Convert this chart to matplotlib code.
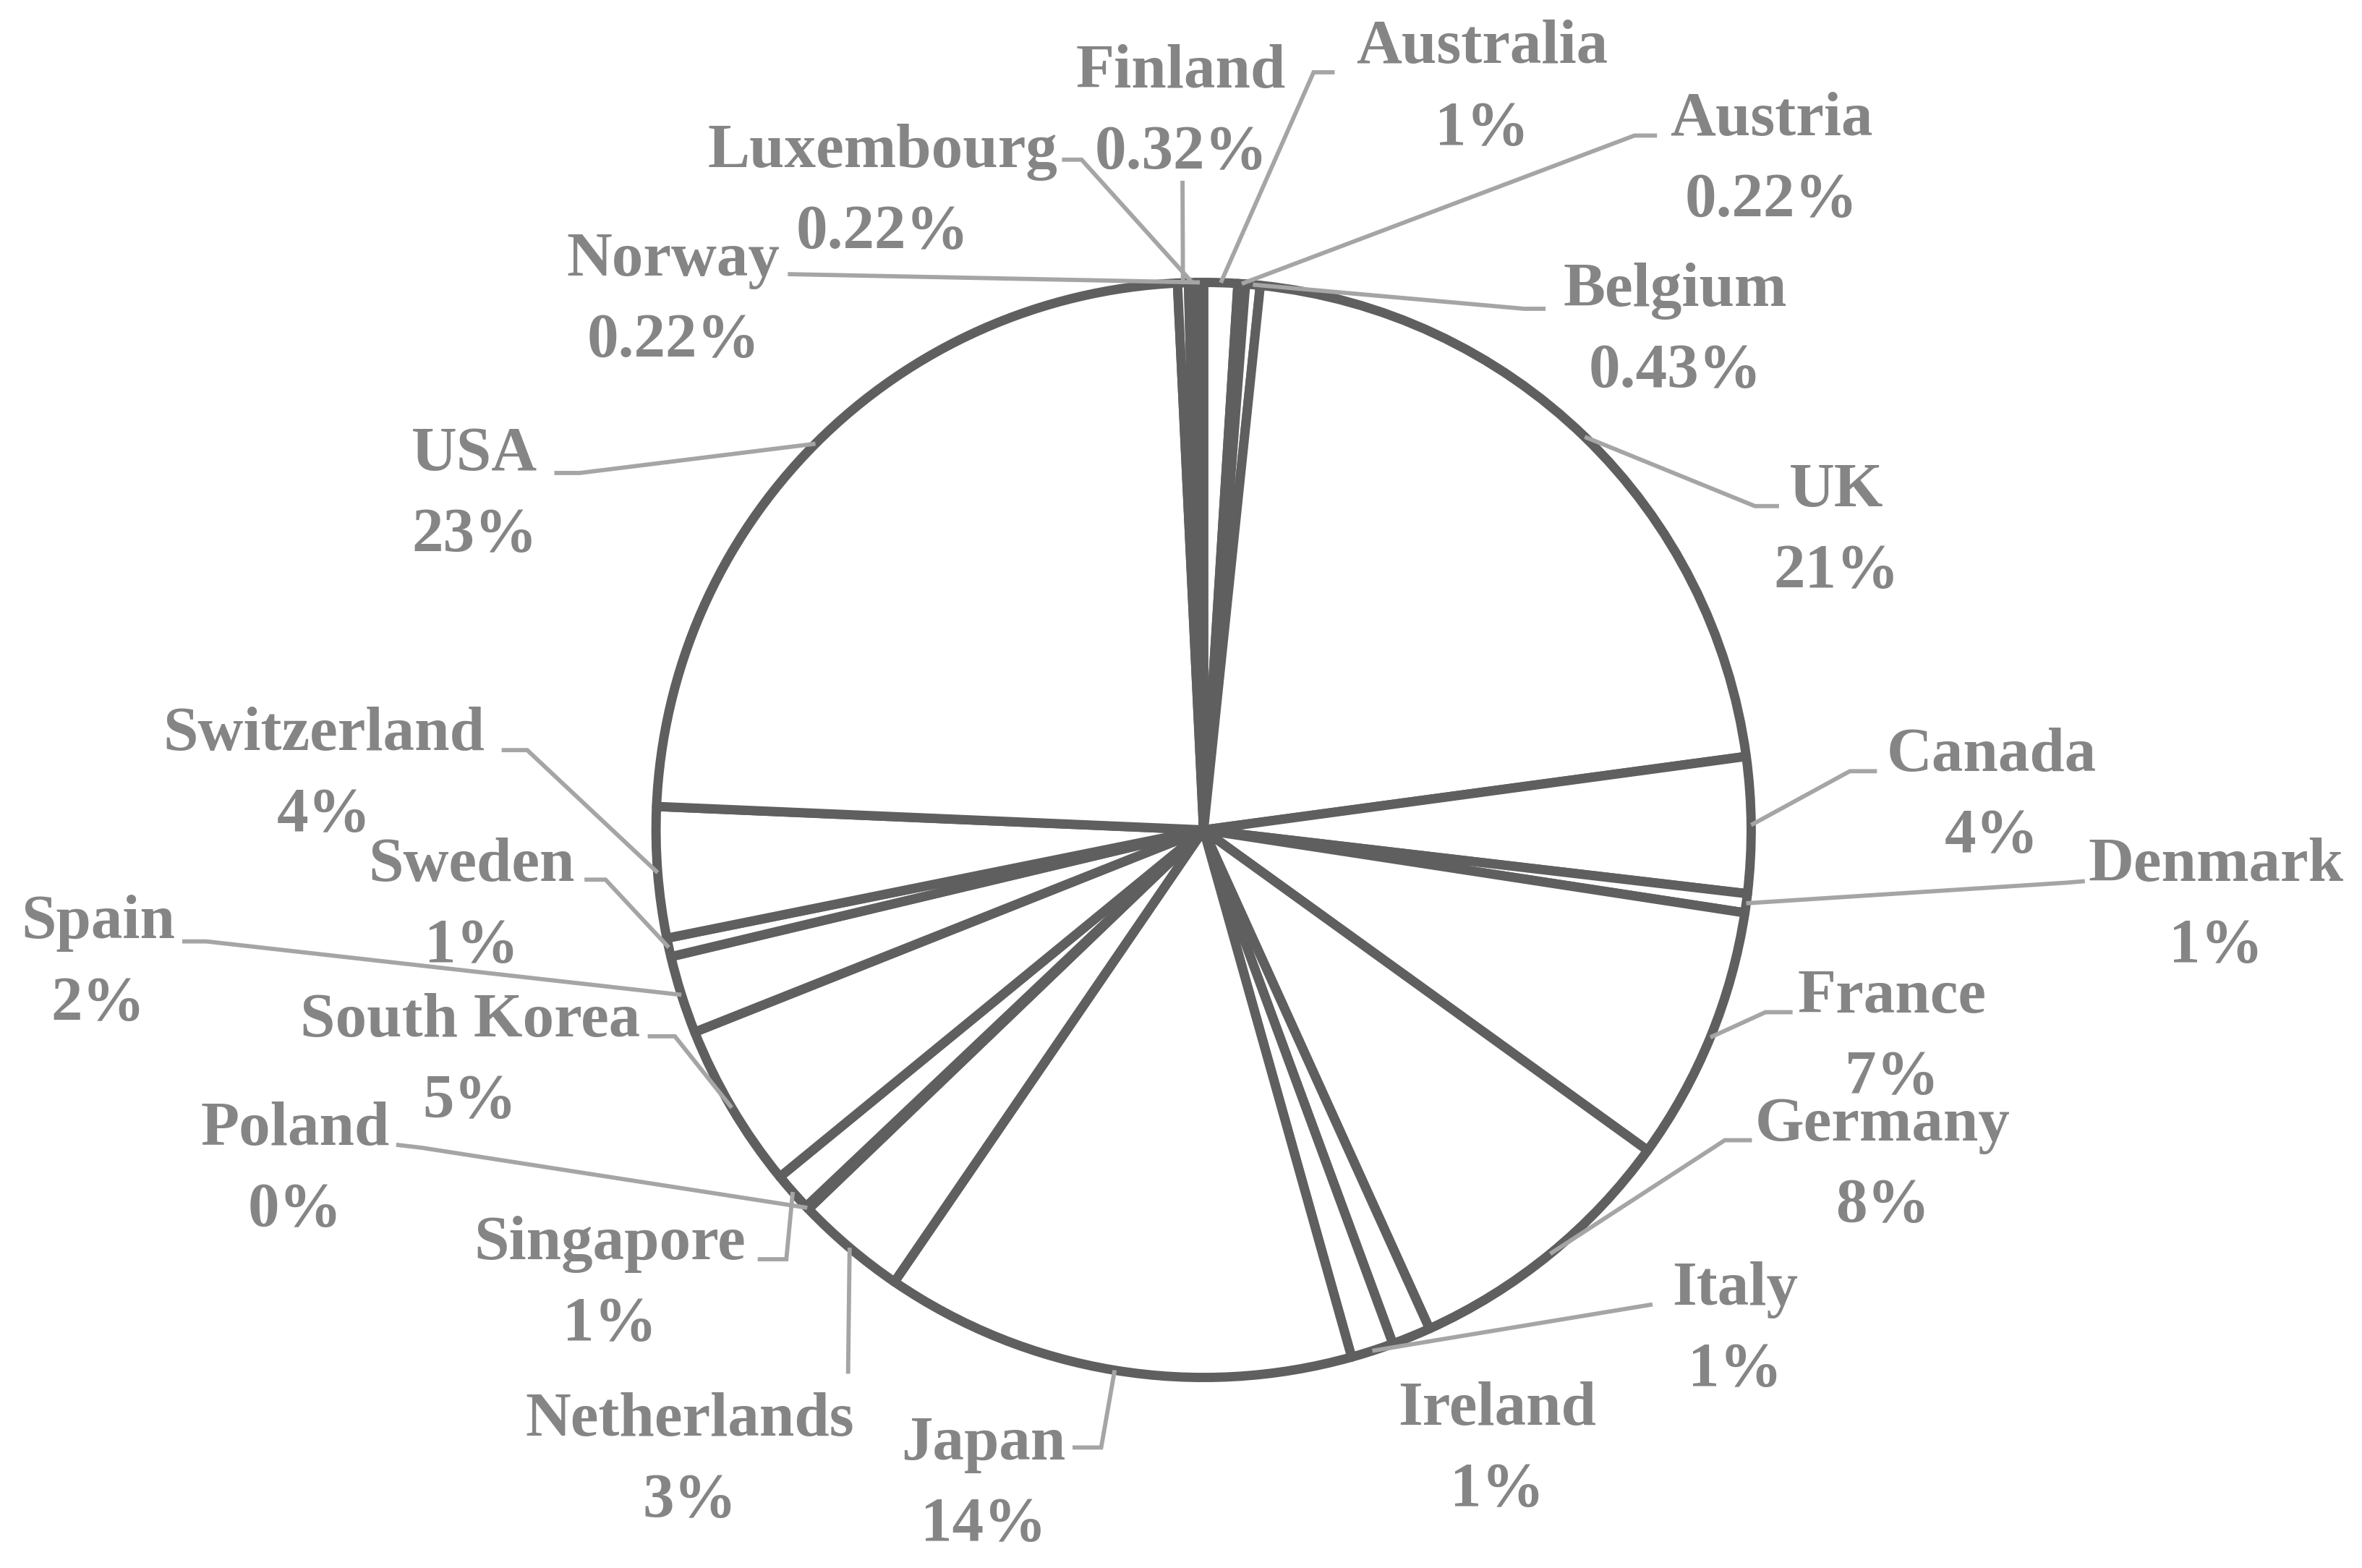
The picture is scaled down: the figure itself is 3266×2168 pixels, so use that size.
import matplotlib
matplotlib.use("Agg")
import matplotlib.pyplot as plt
import numpy as np

# ---------------- data (clockwise from 12 o'clock) ----------------
countries = ["Australia", "Austria", "Belgium", "UK", "Canada", "Denmark",
             "France", "Germany", "Ireland", "Italy", "Japan", "Netherlands",
             "Poland", "Singapore", "South Korea", "Spain", "Sweden",
             "Switzerland", "USA", "Finland", "Luxembourg", "Norway"]
shares = [1.0, 0.22, 0.43, 21.2, 4.0, 0.56,
          7.53, 8.28, 1.15, 1.26, 13.9, 3.28,
          0.1, 1.15, 4.9, 2.3, 0.55,
          3.85, 23.55, 0.32, 0.22, 0.22]
pct_labels = ["1%", "0.22%", "0.43%", "21%", "4%", "1%",
              "7%", "8%", "1%", "1%", "14%", "3%",
              "0%", "1%", "5%", "2%", "1%",
              "4%", "23%", "0.32%", "0.22%", "0.22%"]

# ---------------- layout (reference pixel units, y from top) ----------------
W, H = 1568, 1041
CX, CY, R = 799, 551, 363.5

label_pos = {  # (x centre, baseline of first line)
    "Finland": (784, 58), "Australia": (984, 42), "Austria": (1176, 90),
    "Belgium": (1112, 203), "UK": (1219, 336), "Canada": (1322, 512),
    "Denmark": (1471, 585), "France": (1256, 672), "Germany": (1250, 757),
    "Italy": (1152, 866), "Ireland": (994, 946), "Japan": (653, 969),
    "Netherlands": (458, 953), "Singapore": (405, 836), "Poland": (196, 760),
    "South Korea": (312, 688), "Spain": (65, 623), "Sweden": (313, 585),
    "Switzerland": (215, 498), "USA": (315, 312), "Norway": (447, 183),
    "Luxembourg": (586, 111),
}
leader_pts = {  # points from label side; final point is the slice mid on the rim
    "Finland": [(785, 120)],
    "Australia": [(886, 48), (872, 48)],
    "Austria": [(1100, 90), (1085, 90)],
    "Belgium": [(1026, 205), (1012, 205)],
    "UK": [(1181, 336), (1165, 336)],
    "Canada": [(1246, 512), (1228, 512)],
    "Denmark": [(1384, 585), (1372, 586)],
    "France": [(1190, 672), (1172, 672)],
    "Germany": [(1163, 757), (1145, 757)],
    "Italy": [(1097, 866)],
    "Japan": [(712, 961), (731, 961)],
    "Netherlands": [(563, 912)],
    "Singapore": [(503, 836), (522, 836)],
    "Poland": [(263, 760), (280, 762)],
    "South Korea": [(430, 688), (448, 688)],
    "Spain": [(121, 625), (137, 625)],
    "Sweden": [(388, 584), (402, 584)],
    "Switzerland": [(333, 498), (350, 498)],
    "USA": [(368, 314), (385, 314)],
    "Norway": [(523, 182)],
    "Luxembourg": [(705, 106), (718, 106)],
}

EDGE = "#5f5f5f"
LEAD = "#a5a5a5"
TXT = "#858585"
FONT = ["Liberation Serif", "DejaVu Serif"]
FS = 20.9
LINE_GAP = 53.8


def P(x, y):
    return x, H - y


fig = plt.figure(figsize=(3266 / 300, 2168 / 300), dpi=300)
ax = fig.add_axes([0, 0, 1, 1])
wedges, _ = ax.pie(shares, startangle=90, counterclock=False,
                   center=P(CX, CY), radius=R,
                   wedgeprops=dict(facecolor="white", edgecolor=EDGE,
                                   linewidth=3.1, joinstyle="round"))
ax.set_xlim(0, W)
ax.set_ylim(0, H)
ax.set_aspect("auto")
ax.axis("off")

cx, cy = P(CX, CY)
for w, name, pct in zip(wedges, countries, pct_labels):
    mid = np.deg2rad((w.theta1 + w.theta2) / 2)
    rim = (cx + R * np.cos(mid), cy + R * np.sin(mid))
    if name in leader_pts:
        pts = [P(*p) for p in leader_pts[name]] + [rim]
        xs, ys = zip(*pts)
        ax.plot(xs, ys, color=LEAD, lw=1.4, solid_capstyle="butt",
                solid_joinstyle="miter", zorder=5)
    lx, ly = label_pos[name]
    ax.text(*P(lx, ly), name, ha="center", va="baseline", fontsize=FS,
            fontweight="bold", family=FONT, color=TXT, zorder=6)
    ax.text(*P(lx, ly + LINE_GAP), pct, ha="center", va="baseline",
            fontsize=FS, fontweight="bold", family=FONT, color=TXT, zorder=6)

fig.savefig("out.png", dpi=300, facecolor="white")
